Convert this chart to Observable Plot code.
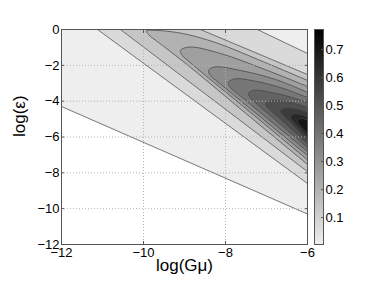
<!DOCTYPE html>
<html><head><meta charset="utf-8">
<script src="https://cdn.jsdelivr.net/npm/d3@7"></script>
<script src="https://cdn.jsdelivr.net/npm/@observablehq/plot@0.6"></script>
<style>
body{margin:0;background:#fff;}
#wrap{position:relative;width:374px;height:289px;font-family:"Liberation Sans",Arial,sans-serif;}
#wrap svg{position:absolute;top:0;}
</style></head><body><div id="wrap"></div>
<script>
// contour levels and the boundary of each superlevel region (log Gμ, log ε)
const levels = [0.004,0.068,0.132,0.196,0.260,0.324,0.388,0.452,0.516,0.580,0.644,0.708];
const c1 = [[-12.3,-4.0],[-5.7,-10.6],[-5.7,0.5],[-12.3,0.5]];
const c2 = [[-11.42,0.50],[-5.88,-8.80],[-5.88,-1.47],[-7.68,0.50]];
const c3 = [[-10.85,0.50],[-5.88,-8.14],[-5.88,-2.63],[-9.13,0.50]];
const c4 = [[-5.88,-7.76],[-7.39,-4.90],[-8.85,-2.12],[-9.22,-1.45],[-9.63,-0.73],[-9.88,-0.28],[-9.93,-0.08],[-9.83,-0.04],[-9.10,-0.20],[-8.24,-0.73],[-7.15,-1.73],[-5.88,-2.96]];
const c5 = [[-5.88,-7.50],[-7.39,-4.63],[-8.85,-1.87],[-9.05,-1.45],[-9.10,-1.17],[-8.88,-0.98],[-8.12,-1.34],[-7.10,-2.18],[-5.88,-3.29]];
const c6 = [[-5.88,-7.26],[-7.15,-4.88],[-8.17,-2.96],[-8.37,-2.57],[-8.41,-2.29],[-8.27,-2.09],[-7.63,-2.29],[-6.78,-2.79],[-5.88,-3.63]];
const c7 = [[-5.88,-7.04],[-6.85,-5.20],[-7.68,-3.63],[-7.88,-3.24],[-7.93,-2.96],[-7.78,-2.76],[-7.24,-2.90],[-6.59,-3.29],[-5.88,-3.91]];
const c8 = [[-5.88,-6.83],[-6.61,-5.39],[-7.22,-4.19],[-7.39,-3.82],[-7.44,-3.57],[-7.32,-3.40],[-6.85,-3.52],[-6.37,-3.80],[-5.88,-4.19]];
const c9 = [[-5.88,-6.64],[-6.41,-5.53],[-6.83,-4.66],[-6.98,-4.35],[-7.02,-4.13],[-6.90,-3.96],[-6.51,-4.02],[-6.22,-4.19],[-5.88,-4.45]];
const c10 = [[-5.88,-6.50],[-6.24,-5.60],[-6.49,-5.00],[-6.61,-4.74],[-6.66,-4.55],[-6.56,-4.40],[-6.29,-4.44],[-5.88,-4.72]];
const c11 = [[-5.88,-6.33],[-6.22,-5.44],[-6.37,-5.08],[-6.41,-4.86],[-6.34,-4.72],[-6.17,-4.74],[-5.88,-5.02]];
const c12 = [[-5.88,-6.14],[-6.00,-5.80],[-6.20,-5.33],[-6.24,-5.08],[-6.17,-4.98],[-6.00,-5.05],[-5.88,-5.16]];
const xTicks = [-12,-10,-8,-6];
const yTicks = [-12,-10,-8,-6,-4,-2,0];
const barTicks = [0.1,0.2,0.3,0.4,0.5,0.6,0.7];
const valueRange = [0.004, 0.771];

const boundaries = [c1,c2,c3,c4,c5,c6,c7,c8,c9,c10,c11,c12];
const rows = [];
boundaries.forEach((pts, i) => pts.forEach(([x, y]) => rows.push({level: levels[i], x, y, straight: i < 3})));
const straightRows = rows.filter(d => d.straight);
const curvedRows = rows.filter(d => !d.straight);

const fmt = d3.format("d");
const font = '"Liberation Sans", Arial, sans-serif';
const colorScale = {type: "linear", domain: valueRange, range: ["#eeeeee", "#000000"], interpolate: "rgb", clamp: true};
const gridStyle = {stroke: "#b4b4b4", strokeOpacity: 1, strokeDasharray: "1,2", strokeWidth: 1};

const main = Plot.plot({
  width: 374, height: 289,
  marginLeft: 61, marginRight: 67, marginTop: 29, marginBottom: 45,
  x: {domain: [-12, -6]},
  y: {domain: [-12, 0]},
  color: colorScale,
  style: {fontFamily: font, fontSize: "13px", color: "#000", background: "transparent"},
  marks: [
    Plot.line(straightRows, {x: "x", y: "y", z: "level", fill: "level", stroke: "#555", strokeWidth: 0.8, curve: "linear", clip: true}),
    Plot.line(curvedRows, {x: "x", y: "y", z: "level", fill: "level", stroke: "#444", strokeWidth: 0.75, curve: "catmull-rom", clip: true}),
    Plot.gridX(xTicks.slice(1, -1), gridStyle),
    Plot.gridY(yTicks.slice(1, -1), gridStyle),
    Plot.frame({stroke: "#555"}),
    Plot.axisX(xTicks, {anchor: "bottom", tickSize: 0, tickPadding: 3, tickFormat: fmt, label: null, fontSize: 13}),
    Plot.axisX(xTicks, {anchor: "bottom", tickSize: 3, dy: -3, tickFormat: () => "", label: null, stroke: "#555"}),
    Plot.axisX(xTicks, {anchor: "top", tickSize: 3, dy: 3, tickFormat: () => "", label: null, stroke: "#555"}),
    Plot.axisY(yTicks, {anchor: "left", tickSize: 0, tickPadding: 2, tickFormat: fmt, label: null, fontSize: 13}),
    Plot.axisY(yTicks, {anchor: "left", tickSize: 3, dx: 3, tickFormat: () => "", label: null, stroke: "#555"}),
    Plot.axisY(yTicks, {anchor: "right", tickSize: 3, dx: -3, tickFormat: () => "", label: null, stroke: "#555"}),
    Plot.text(["log(Gμ)"], {frameAnchor: "bottom", dy: 26, fontSize: 17}),
    Plot.text(["log(ε)"], {frameAnchor: "left", dx: -42, rotate: -90, fontSize: 17})
  ]
});

const stops = d3.range(valueRange[0], valueRange[1], 0.0025);
const bar = Plot.plot({
  width: 60, height: 289,
  marginLeft: 14, marginRight: 37, marginTop: 29, marginBottom: 45,
  x: {domain: [0, 1], axis: null},
  y: {domain: valueRange, axis: null},
  color: colorScale,
  style: {fontFamily: font, fontSize: "13px", color: "#000", background: "transparent"},
  marks: [
    Plot.rect(stops, {x1: 0, x2: 1, y1: d => d, y2: d => Math.min(d + 0.006, valueRange[1]), fill: d => d, shapeRendering: "crispEdges"}),
    Plot.frame({stroke: "#555"}),
    Plot.axisY(barTicks, {anchor: "right", tickSize: 3, dx: -3, tickFormat: () => "", label: null, stroke: "#555"}),
    Plot.axisY(barTicks, {anchor: "right", tickSize: 0, tickPadding: 2, tickFormat: d3.format(".1f"), label: null, fontSize: 13})
  ]
});

const wrap = document.getElementById("wrap");
main.style.left = "0px";
bar.style.left = "300px";
wrap.appendChild(main);
wrap.appendChild(bar);
</script></body></html>
